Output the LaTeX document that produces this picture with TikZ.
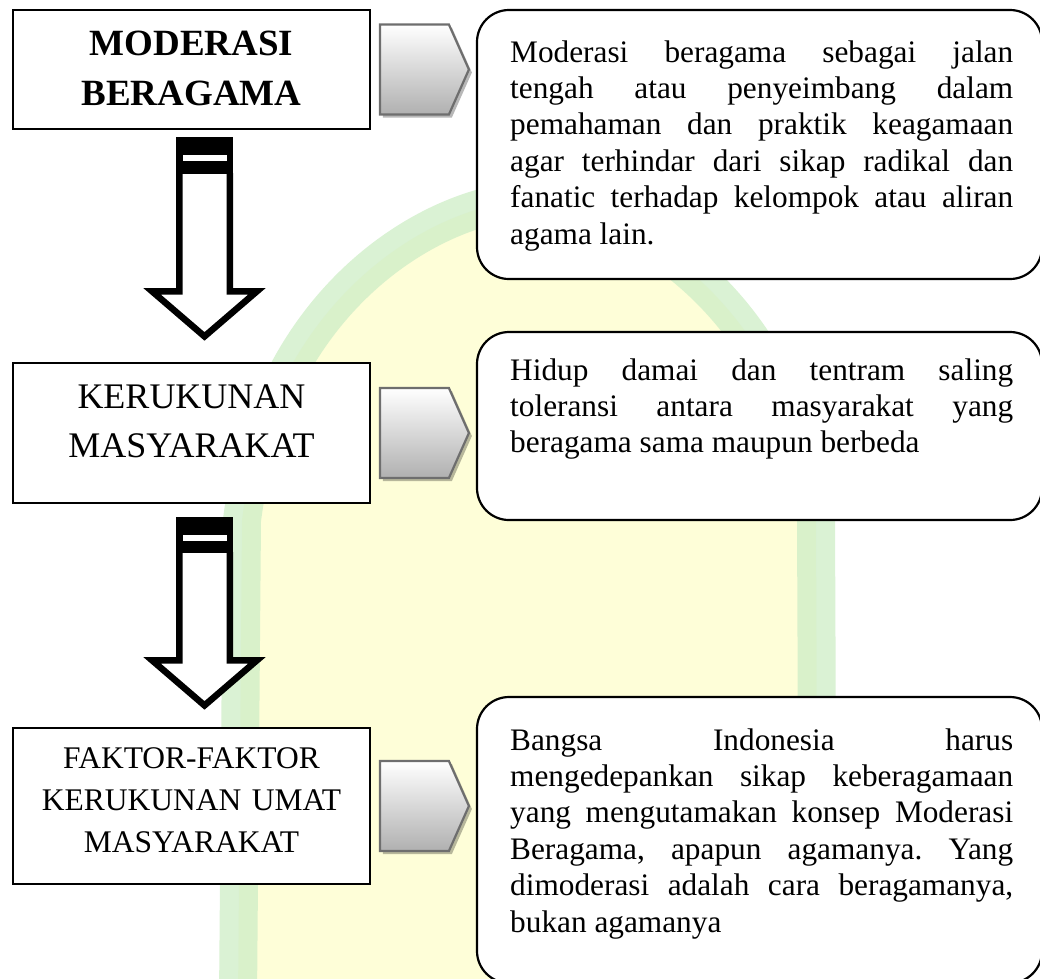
\documentclass[tikz,border=0pt]{standalone}
\usepackage{fontspec}
\setmainfont{Liberation Serif}
\usetikzlibrary{calc}
\definecolor{wmyellow}{HTML}{FEFED8}
\definecolor{wmgreen}{HTML}{CDEDC6}
\definecolor{chevborder}{HTML}{6E6E6E}
\newcommand\drawchev[1]{%
  \fill[black, opacity=0.28] ($(#1.east)+(12,-42)$) -- ++(69,0) -- ++(20,45) -- ++(-20,45) -- ++(-69,0) -- cycle;
  \path[chev] ($(#1.east)+(9,-45)$) -- ++(69,0) -- ++(20,45) -- ++(-20,45) -- ++(-69,0) -- cycle;
}
\newcommand\drawblockarrow[4]{% #1 top y, #2 shaft start y, #3 head y, #4 tip y
  \path[arrowline] (179.25,#2-1) -- (179.25,#3+3.25) -- (152,#3+3.25) -- (204.5,#4-4.6) -- (257,#3+3.25) -- (229.75,#3+3.25) -- (229.75,#2-1);
  \fill[black] (176,#1) rectangle (233,#2);
  \fill[white] (183,#1+18) rectangle (227,#1+24);
}
\begin{document}
\begin{tikzpicture}[x=1pt,y=-1pt,
  lbox/.style={draw=black, line width=1.8pt, fill=white, rectangle, inner sep=0pt, minimum width=357pt},
  rbox/.style={draw=black, line width=2.2pt, fill=white, rectangle, rounded corners=32pt, inner sep=0pt, minimum width=565pt},
  ltext/.style={anchor=north, text width=357pt, align=center, inner sep=0pt},
  rtext/.style={anchor=north west, text width=503pt, align=justify, inner sep=0pt,
    font={\fontsize{31.3}{36.4}\selectfont\frenchspacing\hyphenpenalty=10000\tolerance=10000\pretolerance=-1\hbadness=10000}},
  chev/.style={draw=chevborder, line width=2.2pt, top color=white, bottom color=gray!62, line join=miter},
  arrowline/.style={draw=black, line width=6.5pt, fill=white, line join=miter, miter limit=10},
]
\useasboundingbox (0,0) rectangle (1040,978);
\clip (0,0) rectangle (1040,978);
% watermark
\fill[wmyellow] (238,1000) -- (242,520) .. controls (270,300) and (430,205) .. (528,200) .. controls (626,205) and (790,300) .. (816,520) -- (818,1000) -- cycle;
\draw[wmgreen, line width=38pt, opacity=0.75] (238,1000) -- (242,520) .. controls (270,300) and (430,205) .. (528,200) .. controls (626,205) and (790,300) .. (816,520) -- (818,1000);
% left boxes
\node[lbox, minimum height=119pt] (b1) at (191.5,69.5) {};
\node[lbox, minimum height=140pt] (b2) at (191.5,433) {};
\node[lbox, minimum height=156pt] (b3) at (191.5,806) {};
\node[ltext, font={\fontsize{37}{50}\selectfont\bfseries}] (t1) at (191.5,20) {\strut MODERASI\\BERAGAMA};
\node[ltext, font={\fontsize{36}{49}\selectfont}] (t2) at (191.5,373.7) {\strut KERUKUNAN\\MASYARAKAT};
\node[ltext, font={\fontsize{31.5}{42}\selectfont}] (t3) at (191.5,738.6) {\strut FAKTOR-FAKTOR\\KERUKUNAN UMAT\\MASYARAKAT};
% right boxes
\node[rbox, minimum height=269pt] (r1) at (759.5,144.5) {};
\node[rbox, minimum height=188pt] (r2) at (759.5,426) {};
\node[rbox, minimum height=286pt] (r3) at (759.5,840) {};
\node[rtext] (s1) at (510,36.5) {\strut Moderasi beragama sebagai jalan\linebreak tengah atau penyeimbang dalam\linebreak pemahaman dan praktik keagamaan\linebreak agar terhindar dari sikap radikal dan\linebreak fanatic terhadap kelompok atau aliran\linebreak agama lain.};
\node[rtext] (s2) at (510,354.5) {\strut Hidup damai dan tentram saling\linebreak toleransi antara masyarakat yang\linebreak beragama sama maupun berbeda};
\node[rtext] (s3) at (510,724.5) {\strut Bangsa Indonesia harus\linebreak mengedepankan sikap keberagamaan\linebreak yang mengutamakan konsep Moderasi\linebreak Beragama, apapun agamanya. Yang\linebreak dimoderasi adalah cara beragamanya,\linebreak bukan agamanya};
% chevrons
\drawchev{b1}
\drawchev{b2}
\drawchev{b3}
% block arrows between boxes
\drawblockarrow{137}{174}{288}{341}
\drawblockarrow{517}{553}{657}{710}
\end{tikzpicture}
\end{document}
